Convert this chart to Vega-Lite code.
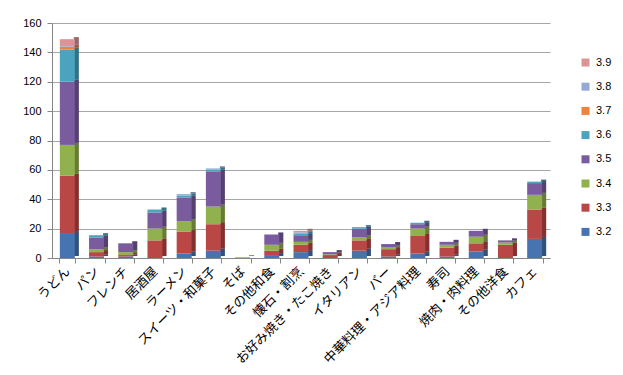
{
  "$schema": "https://vega.github.io/schema/vega-lite/v6.json",
  "width": 498,
  "height": 235,
  "autosize": {"type": "none"},
  "padding": {"left": 52, "top": 23, "right": 73, "bottom": 117},
  "background": "white",
  "config": {
    "font": "Noto Sans CJK JP",
    "view": {"stroke": null}
  },
  "data": {
    "values": [
      {"c": "うどん", "s": "3.2", "v": 17},
      {"c": "うどん", "s": "3.3", "v": 39},
      {"c": "うどん", "s": "3.4", "v": 21},
      {"c": "うどん", "s": "3.5", "v": 43},
      {"c": "うどん", "s": "3.6", "v": 22},
      {"c": "うどん", "s": "3.7", "v": 2},
      {"c": "うどん", "s": "3.8", "v": 1},
      {"c": "うどん", "s": "3.9", "v": 4},
      {"c": "パン", "s": "3.2", "v": 1},
      {"c": "パン", "s": "3.3", "v": 3},
      {"c": "パン", "s": "3.4", "v": 2},
      {"c": "パン", "s": "3.5", "v": 8},
      {"c": "パン", "s": "3.6", "v": 1.5},
      {"c": "フレンチ", "s": "3.2", "v": 1},
      {"c": "フレンチ", "s": "3.3", "v": 1},
      {"c": "フレンチ", "s": "3.4", "v": 2},
      {"c": "フレンチ", "s": "3.5", "v": 6},
      {"c": "居酒屋", "s": "3.3", "v": 12},
      {"c": "居酒屋", "s": "3.4", "v": 8},
      {"c": "居酒屋", "s": "3.5", "v": 11},
      {"c": "居酒屋", "s": "3.6", "v": 2},
      {"c": "ラーメン", "s": "3.2", "v": 3},
      {"c": "ラーメン", "s": "3.3", "v": 15},
      {"c": "ラーメン", "s": "3.4", "v": 7},
      {"c": "ラーメン", "s": "3.5", "v": 16},
      {"c": "ラーメン", "s": "3.6", "v": 1.5},
      {"c": "ラーメン", "s": "3.8", "v": 1},
      {"c": "スイーツ・和菓子", "s": "3.2", "v": 5},
      {"c": "スイーツ・和菓子", "s": "3.3", "v": 18},
      {"c": "スイーツ・和菓子", "s": "3.4", "v": 12},
      {"c": "スイーツ・和菓子", "s": "3.5", "v": 24},
      {"c": "スイーツ・和菓子", "s": "3.6", "v": 1},
      {"c": "スイーツ・和菓子", "s": "3.8", "v": 1},
      {"c": "そば", "s": "3.4", "v": 0.5},
      {"c": "その他和食", "s": "3.2", "v": 2},
      {"c": "その他和食", "s": "3.3", "v": 3},
      {"c": "その他和食", "s": "3.4", "v": 4},
      {"c": "その他和食", "s": "3.5", "v": 7},
      {"c": "懐石・割烹", "s": "3.2", "v": 4},
      {"c": "懐石・割烹", "s": "3.3", "v": 5},
      {"c": "懐石・割烹", "s": "3.4", "v": 2},
      {"c": "懐石・割烹", "s": "3.5", "v": 4.5},
      {"c": "懐石・割烹", "s": "3.6", "v": 1},
      {"c": "懐石・割烹", "s": "3.7", "v": 0.5},
      {"c": "懐石・割烹", "s": "3.8", "v": 0.5},
      {"c": "懐石・割烹", "s": "3.9", "v": 1},
      {"c": "お好み焼き・たこ焼き", "s": "3.3", "v": 2},
      {"c": "お好み焼き・たこ焼き", "s": "3.4", "v": 0.5},
      {"c": "お好み焼き・たこ焼き", "s": "3.5", "v": 1.5},
      {"c": "イタリアン", "s": "3.2", "v": 5},
      {"c": "イタリアン", "s": "3.3", "v": 7},
      {"c": "イタリアン", "s": "3.4", "v": 2},
      {"c": "イタリアン", "s": "3.5", "v": 6},
      {"c": "イタリアン", "s": "3.6", "v": 1},
      {"c": "バー", "s": "3.2", "v": 1},
      {"c": "バー", "s": "3.3", "v": 5},
      {"c": "バー", "s": "3.4", "v": 1.5},
      {"c": "バー", "s": "3.5", "v": 2},
      {"c": "中華料理・アジア料理", "s": "3.2", "v": 3},
      {"c": "中華料理・アジア料理", "s": "3.3", "v": 12},
      {"c": "中華料理・アジア料理", "s": "3.4", "v": 5},
      {"c": "中華料理・アジア料理", "s": "3.5", "v": 3},
      {"c": "中華料理・アジア料理", "s": "3.6", "v": 1},
      {"c": "寿司", "s": "3.2", "v": 1},
      {"c": "寿司", "s": "3.3", "v": 6},
      {"c": "寿司", "s": "3.4", "v": 2},
      {"c": "寿司", "s": "3.5", "v": 2},
      {"c": "焼肉・肉料理", "s": "3.2", "v": 4.5},
      {"c": "焼肉・肉料理", "s": "3.3", "v": 5.5},
      {"c": "焼肉・肉料理", "s": "3.4", "v": 4.5},
      {"c": "焼肉・肉料理", "s": "3.5", "v": 4},
      {"c": "その他洋食", "s": "3.3", "v": 9},
      {"c": "その他洋食", "s": "3.4", "v": 1.5},
      {"c": "その他洋食", "s": "3.5", "v": 1.5},
      {"c": "カフェ", "s": "3.2", "v": 13},
      {"c": "カフェ", "s": "3.3", "v": 20},
      {"c": "カフェ", "s": "3.4", "v": 10},
      {"c": "カフェ", "s": "3.5", "v": 8},
      {"c": "カフェ", "s": "3.6", "v": 1}
    ]
  },
  "encoding": {
    "x": {
      "field": "c",
      "type": "nominal",
      "sort": null,
      "scale": {"paddingInner": 0.45, "paddingOuter": 0.25},
      "axis": {
        "title": null,
        "labelAngle": -45,
        "labelAlign": "right",
        "labelBaseline": "middle",
        "labelFontSize": 13,
        "labelColor": "#000000",
        "labelPadding": 6,
        "tickBand": "extent",
        "tickColor": "#868686",
        "tickSize": 5,
        "domainColor": "#868686",
        "labelOverlap": false
      }
    },
    "y": {
      "field": "v",
      "type": "quantitative",
      "stack": "zero",
      "scale": {"domain": [0, 160]},
      "axis": {
        "title": null,
        "values": [0, 20, 40, 60, 80, 100, 120, 140, 160],
        "labelFontSize": 11,
        "labelColor": "#000000",
        "labelFont": "Liberation Sans",
        "gridColor": "#a6a6a6",
        "gridWidth": 1,
        "domainColor": "#868686",
        "tickColor": "#868686",
        "tickSize": 5,
        "labelPadding": 6
      }
    },
    "color": {
      "field": "s",
      "type": "nominal",
      "scale": {
        "domain": ["3.9", "3.8", "3.7", "3.6", "3.5", "3.4", "3.3", "3.2"],
        "range": ["#D99694", "#95ABD4", "#F0823C", "#4BA3BE", "#7A5C9E", "#91B14E", "#B84745", "#4774B0"]
      },
      "legend": {
        "title": null,
        "orient": "none",
        "legendX": 528,
        "legendY": 34,
        "symbolType": "square",
        "symbolSize": 64,
        "symbolStrokeWidth": 0,
        "labelFontSize": 11,
        "labelFont": "Liberation Sans",
        "labelColor": "#000000",
        "rowPadding": 12.2,
        "labelOffset": 5
      }
    },
    "order": {"field": "s", "type": "ordinal", "sort": "ascending"}
  },
  "layer": [
    {"mark": {"type": "bar", "width": 5, "xOffset": 9, "yOffset": -2}},
    {"mark": {"type": "bar", "width": 5, "xOffset": 9, "yOffset": -2, "opacity": 0.3}, "encoding": {"color": {"value": "#000000"}}},
    {"mark": {"type": "bar", "width": 15}}
  ]
}
